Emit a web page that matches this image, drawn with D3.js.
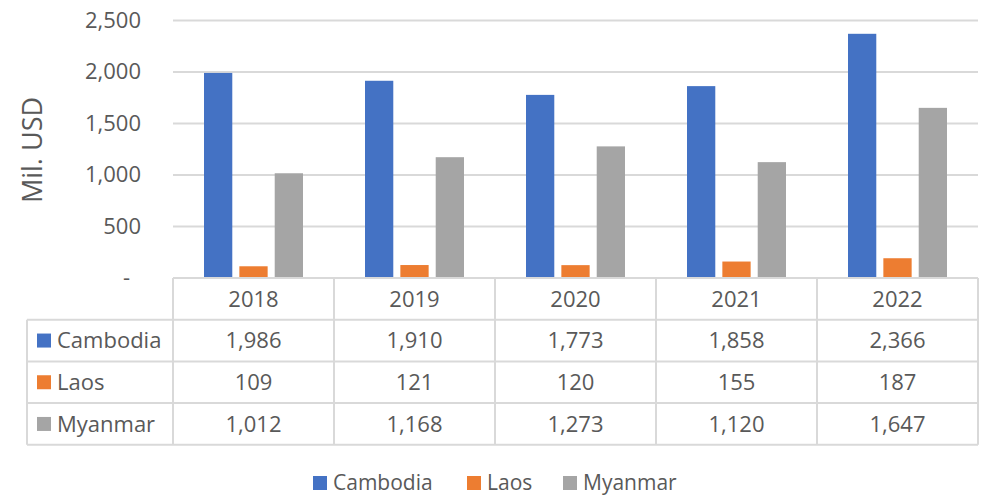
<!DOCTYPE html>
<html>
<head>
<meta charset="utf-8">
<script src="https://cdn.jsdelivr.net/npm/d3@7"></script>
<style>
  body { margin: 0; background: #fff; }
  text { font-family: "Open Sans", sans-serif; fill: #595959; }
</style>
</head>
<body>
<div id="chart"></div>
<script>
var years = ["2018", "2019", "2020", "2021", "2022"];
var seriesNames = ["Cambodia", "Laos", "Myanmar"];
var cambodia = [1986, 1910, 1773, 1858, 2366];
var laos = [109, 121, 120, 155, 187];
var myanmar = [1012, 1168, 1273, 1120, 1647];
var yTicks = [0, 500, 1000, 1500, 2000, 2500];
var colors = ["#4472c4", "#ed7d31", "#a5a5a5"];

var values = [cambodia, laos, myanmar];

var width = 993,
    height = 497;

var svg = d3.select("#chart").append("svg")
    .attr("width", width)
    .attr("height", height);

var plotLeft = 173, plotRight = 978, plotTop = 20, plotBottom = 277.5;
var tableLeft = 27;
var rowH = 41.7;

var x = d3.scaleBand()
    .domain(years)
    .range([plotLeft, plotRight]);

var xIn = d3.scaleBand()
    .domain(seriesNames)
    .range([31, x.bandwidth() - 31])
    .paddingInner(0.2);

var y = d3.scaleLinear()
    .domain([0, 2500])
    .range([plotBottom, plotTop]);

var fmt = d3.format(",");

// gridlines
var grid = svg.append("g")
    .attr("transform", "translate(" + plotLeft + ",0)")
    .call(d3.axisLeft(y).tickValues(yTicks).tickSize(-(plotRight - plotLeft)).tickFormat(""));
grid.select(".domain").remove();
grid.selectAll("line").attr("stroke", "#d9d9d9").attr("stroke-width", 2);

// tick labels
var yAxis = svg.append("g")
    .attr("transform", "translate(" + plotLeft + ",0)")
    .call(d3.axisLeft(y).tickValues(yTicks).tickSize(0).tickPadding(32)
        .tickFormat(d => d === 0 ? "-" : fmt(d)));
yAxis.select(".domain").remove();
yAxis.selectAll("text")
    .attr("font-size", 22)
    .attr("font-family", "Open Sans")
    .attr("fill", "#595959")
    .attr("dx", d => d === 0 ? -11 : 0);

// axis title
svg.append("text")
    .attr("transform", "translate(42,150) rotate(-90)")
    .attr("text-anchor", "middle")
    .attr("font-size", 27)
    .text("Mil. USD");

// bars
seriesNames.forEach(function (s, si) {
    svg.append("g").selectAll("rect")
        .data(values[si])
        .enter()
        .append("rect")
        .attr("x", (d, i) => x(years[i]) + xIn(s))
        .attr("y", d => y(d))
        .attr("width", xIn.bandwidth())
        .attr("height", d => y(0) - y(d))
        .attr("fill", colors[si]);
});

// data table
var tbl = svg.append("g");
var lineCol = "#d9d9d9";
var tableTop = plotBottom + 0.5;
var tableBottom = tableTop + rowH * 4;

// horizontal lines
tbl.append("line")
    .attr("x1", plotLeft).attr("x2", plotRight)
    .attr("y1", tableTop).attr("y2", tableTop);
for (var r = 1; r <= 4; r++) {
    tbl.append("line")
        .attr("x1", tableLeft).attr("x2", plotRight)
        .attr("y1", tableTop + rowH * r).attr("y2", tableTop + rowH * r);
}
// vertical lines
tbl.append("line")
    .attr("x1", tableLeft).attr("x2", tableLeft)
    .attr("y1", tableTop + rowH).attr("y2", tableBottom);
years.forEach(function (yr) {
    tbl.append("line")
        .attr("x1", x(yr)).attr("x2", x(yr))
        .attr("y1", tableTop).attr("y2", tableBottom);
});
tbl.append("line")
    .attr("x1", plotRight).attr("x2", plotRight)
    .attr("y1", tableTop).attr("y2", tableBottom);
tbl.selectAll("line").attr("stroke", lineCol).attr("stroke-width", 2);

// header years
tbl.selectAll(".yr")
    .data(years)
    .enter()
    .append("text")
    .attr("x", d => x(d) + x.bandwidth() / 2)
    .attr("y", tableTop + rowH / 2)
    .attr("dy", "0.35em")
    .attr("text-anchor", "middle")
    .attr("font-size", 22)
    .text(d => d);

seriesNames.forEach(function (s, si) {
    var cy = tableTop + rowH * (si + 1) + rowH / 2;
    tbl.append("rect")
        .attr("x", 37).attr("y", cy - 7)
        .attr("width", 14).attr("height", 14)
        .attr("fill", colors[si]);
    tbl.append("text")
        .attr("x", 57).attr("y", cy)
        .attr("dy", "0.35em")
        .attr("font-size", 22)
        .text(s);
    tbl.append("g").selectAll("text")
        .data(values[si])
        .enter()
        .append("text")
        .attr("x", (d, i) => x(years[i]) + x.bandwidth() / 2)
        .attr("y", cy)
        .attr("dy", "0.35em")
        .attr("text-anchor", "middle")
        .attr("font-size", 22)
        .text(d => fmt(d));
});

// legend
var legendX = [313, 467, 563];
var legend = svg.append("g");
seriesNames.forEach(function (s, si) {
    legend.append("rect")
        .attr("x", legendX[si]).attr("y", 476)
        .attr("width", 14).attr("height", 14)
        .attr("fill", colors[si]);
    legend.append("text")
        .attr("x", legendX[si] + 20).attr("y", 483)
        .attr("dy", "0.35em")
        .attr("font-size", 21)
        .text(s);
});
</script>
</body>
</html>
